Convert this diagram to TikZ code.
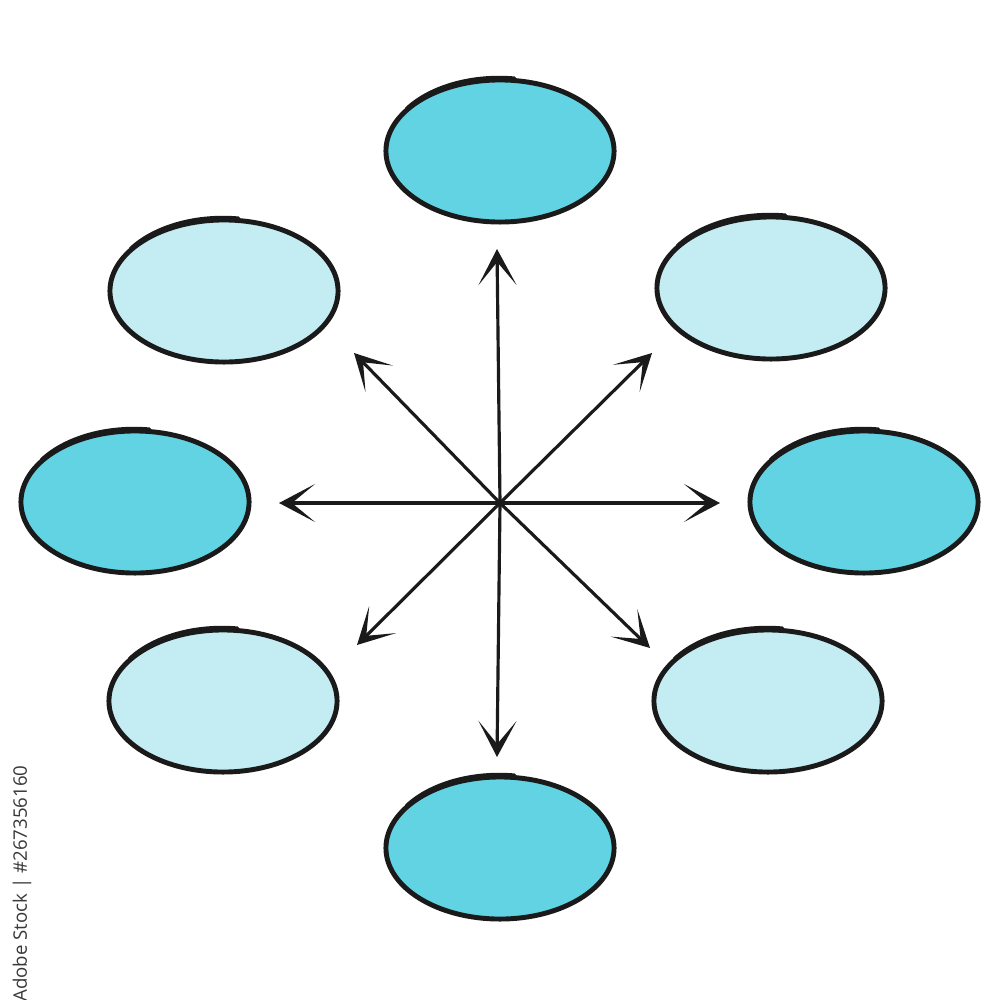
\documentclass[tikz,border=0pt]{standalone}
\usepackage{fontspec}
\setsansfont{Open Sans}
\usetikzlibrary{shapes.geometric,arrows.meta}
\definecolor{darkblob}{RGB}{98,211,227}
\definecolor{lightblob}{RGB}{196,236,243}
\definecolor{outline}{RGB}{26,26,26}
\begin{document}
\begin{tikzpicture}[x=0.01cm,y=-0.01cm,
  blob/.style={ellipse,draw=outline,line width=1.4pt,minimum width=2.28cm,minimum height=1.42cm,inner sep=0pt},
  dblob/.style={blob,fill=darkblob},
  lblob/.style={blob,fill=lightblob},
  sketch/.style={draw=outline,line width=0.7pt,line cap=round},
  arr/.style={draw=outline,line width=0.9pt,-{Stealth[length=3.6mm,width=3.8mm,inset=2.3mm]}}]
\useasboundingbox (0,0) rectangle (1000,1000);
\clip (0,0) rectangle (1000,1000);
\fill[white] (0,0) rectangle (1000,1000);
% ellipses
\node[dblob] (eT)  at (500,151) {};
\node[lblob] (eUL) at (224,291) {};
\node[lblob] (eUR) at (771,288) {};
\node[dblob] (eL)  at (135,502) {};
\node[dblob] (eR)  at (864,502) {};
\node[lblob] (eLL) at (223,701) {};
\node[lblob] (eLR) at (768,701) {};
\node[dblob] (eB)  at (500,848) {};
% sketchy overlapping strokes
\foreach \cx/\cy in {500/151,224/291,771/288,135/502,864/502,223/701,768/701,500/848}{
  \draw[sketch] plot[domain=82:146,samples=30,smooth] ({\cx-1+112*cos(\x)},{\cy-3-71*sin(\x)});
}
% arrows
\coordinate (c) at (500,503);
\coordinate (tU)  at (497,249);
\coordinate (tD)  at (497,757);
\coordinate (tL)  at (279,503);
\coordinate (tR)  at (720,503);
\coordinate (tUL) at (354,353);
\coordinate (tUR) at (652,353);
\coordinate (tLL) at (357,645);
\coordinate (tLR) at (650,648);
\foreach \t in {tU,tD,tL,tR,tUL,tUR,tLL,tLR}{
  \draw[arr] (c) -- (\t);
}
% vertical stock id text
\node[font=\sffamily\fontsize{5.3pt}{6.2pt}\selectfont,text=black!78,rotate=90,anchor=east,inner sep=0pt] (id) at (22,765) {Adobe Stock | \#267356160};
\end{tikzpicture}
\end{document}
